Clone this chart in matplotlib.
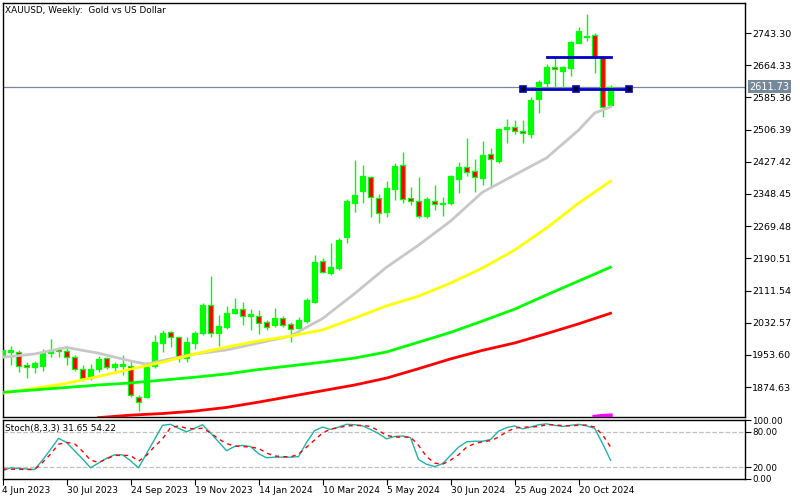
import matplotlib
matplotlib.use('Agg')
import matplotlib.pyplot as plt

# --- data (weekly XAUUSD) ---
date_labels = ['4 Jun 2023', '30 Jul 2023', '24 Sep 2023', '19 Nov 2023', '14 Jan 2024',
               '10 Mar 2024', '5 May 2024', '30 Jun 2024', '25 Aug 2024', '20 Oct 2024']
date_label_idx = [0, 8, 16, 24, 32, 40, 48, 56, 64, 72]

opens = [1951, 1962, 1962, 1929, 1923, 1927, 1959, 1968, 1963, 1949,
         1919, 1896, 1919, 1946, 1925, 1927, 1927, 1851, 1850, 1927,
         1984, 2009, 1997, 1946, 1982, 2007, 2076, 2008, 2023, 2056,
         2066, 2048, 2050, 2034, 2027, 2044, 2030, 2019, 2038, 2084,
         2184, 2155, 2166, 2244, 2326, 2357, 2391, 2338, 2305, 2360,
         2419, 2339, 2331, 2295, 2332, 2323, 2327, 2385, 2414, 2405,
         2388, 2446, 2429, 2508, 2512, 2502, 2496, 2581, 2620, 2659,
         2650, 2657, 2720, 2733, 2738, 2685, 2566]
highs = [1970, 1976, 1966, 1937, 1940, 1968, 1992, 1974, 1976, 1954,
         1929, 1931, 1951, 1949, 1937, 1954, 1941, 1855, 1937, 2003,
         2015, 2012, 1998, 1998, 2012, 2080, 2147, 2052, 2074, 2093,
         2083, 2066, 2064, 2039, 2068, 2049, 2035, 2046, 2093, 2199,
         2192, 2228, 2240, 2335, 2433, 2419, 2393, 2348, 2380, 2424,
         2452, 2365, 2389, 2342, 2370, 2340, 2395, 2428, 2486, 2434,
         2478, 2461, 2511, 2532, 2530, 2530, 2586, 2628, 2668, 2685,
         2662, 2724, 2759, 2790, 2743, 2687, 2616]
lows = [1946, 1929, 1913, 1896, 1909, 1915, 1949, 1948, 1930, 1915,
        1891, 1892, 1913, 1919, 1909, 1904, 1851, 1815, 1847, 1922,
        1962, 1974, 1936, 1937, 1968, 2003, 1998, 1976, 2017, 2054,
        2027, 2015, 2004, 2015, 2022, 2022, 1986, 2017, 2031, 2080,
        2154, 2150, 2163, 2229, 2305, 2326, 2293, 2278, 2293, 2334,
        2327, 2321, 2289, 2289, 2309, 2294, 2321, 2350, 2393, 2354,
        2370, 2364, 2425, 2473, 2495, 2473, 2487, 2546, 2610, 2610,
        2608, 2638, 2718, 2724, 2644, 2537, 2564]
closes = [1966, 1965, 1927, 1923, 1933, 1959, 1966, 1963, 1948, 1919,
          1896, 1919, 1943, 1923, 1931, 1931, 1855, 1839, 1925, 1986,
          2007, 1997, 1946, 1986, 2007, 2076, 2007, 2025, 2056, 2066,
          2049, 2053, 2033, 2023, 2044, 2027, 2017, 2039, 2088, 2182,
          2158, 2170, 2236, 2331, 2346, 2393, 2340, 2303, 2362, 2417,
          2335, 2331, 2295, 2336, 2324, 2327, 2393, 2414, 2402, 2389,
          2444, 2434, 2507, 2512, 2504, 2497, 2579, 2624, 2661, 2654,
          2661, 2722, 2748, 2736, 2685, 2561, 2611.73]

# moving averages (sampled points)
ma_grey_idx = [0, 4, 8, 12, 16, 18, 20, 24, 28, 32, 36, 40, 44, 48, 52, 56, 60, 64, 68, 72, 74, 76]
ma_grey = [1948, 1956, 1972, 1958, 1939, 1931, 1940, 1956, 1966, 1983, 2000, 2043,
           2104, 2169, 2223, 2282, 2353, 2395, 2437, 2505, 2547, 2562]
ma_idx = [0, 4, 8, 12, 16, 20, 24, 28, 32, 36, 40, 44, 48, 52, 56, 60, 64, 68, 72, 76]
ma_yellow = [1860, 1872, 1884, 1901, 1919, 1936, 1956, 1973, 1988, 2000,
             2015, 2044, 2074, 2098, 2130, 2167, 2211, 2265, 2326, 2380]
ma_green = [1862, 1868, 1874, 1880, 1885, 1892, 1899, 1907, 1918, 1927,
            1936, 1946, 1961, 1985, 2009, 2037, 2066, 2101, 2135, 2169]
ma_red_idx = [12, 16, 20, 24, 28, 32, 36, 40, 44, 48, 52, 56, 60, 64, 68, 72, 76]
ma_red = [1800, 1806, 1810, 1816, 1825, 1838, 1852, 1866, 1880, 1897,
          1920, 1944, 1965, 1983, 2006, 2030, 2056]
ma_magenta_idx = [74, 75, 76]
ma_magenta = [1802, 1804, 1805]

# stochastic (8,3,3)
stoch_k = [14, 19, 18, 17, 16, 32, 50, 69, 62, 48, 34, 19, 27, 35, 41, 41, 31, 19, 43, 67,
           91, 92.7, 86, 80, 86, 92, 78, 63, 48, 55, 57, 55, 43, 36, 37, 37, 37, 38, 62, 82,
           88, 84, 88, 92.7, 92, 90, 84, 77, 68, 72, 73, 70, 33, 25, 21, 26, 40, 54, 63, 64,
           64, 67, 81, 87, 90, 85, 88, 92, 93.5, 91, 89, 91, 92.7, 90, 86, 60, 31.65]
stoch_d = [17, 16.6, 16.5, 16, 16, 28, 42, 59, 62, 60, 47, 32, 28, 34, 40, 40, 40, 30, 40, 55,
           68, 87, 90, 86, 85, 86, 78, 68, 60, 56, 55, 54, 52, 44, 39, 38, 37.5, 42, 54, 66,
           78, 84.5, 87, 90, 90.5, 91, 89, 82, 74, 71, 71, 71, 57, 38, 27, 25, 32, 41, 54, 60,
           63, 65, 71, 80, 86, 88, 88, 89, 92, 92, 90.5, 90, 91, 91.5, 88, 75, 54.22]

price_ticks = [2743.30, 2664.33, 2585.36, 2506.39, 2427.42, 2348.45, 2269.48,
               2190.51, 2111.54, 2032.57, 1953.60, 1874.63]
current_price = 2611.73
upper_level = 2685   # blue line from 20 Oct 2024 week
lower_level = 2606   # selected blue trendline
upper_line_idx = [68, 76]
lower_line_idx = [65, 78.25]

BULL = '#00FF00'
BEAR = '#FF0000'

plt.rcParams['font.family'] = ['DejaVu Sans']

fig = plt.figure(figsize=(8, 5), dpi=100)
fig.patch.set_facecolor('white')

xmin, xmax = 0.0, 92.8
ax = fig.add_axes([2.5 / 800, 83 / 500, 742.5 / 800, 414 / 500])
ax2 = fig.add_axes([2.5 / 800, 21 / 500, 742.5 / 800, 59 / 500])

# --- candles ---
xs = list(range(len(opens)))
ax.vlines(xs, lows, highs, color=BULL, linewidth=1.0, zorder=2)
for i, (o, c) in enumerate(zip(opens, closes)):
    face = BULL if c >= o else BEAR
    bottom = min(o, c)
    h = max(abs(c - o), 1.0)
    ax.bar(i, h, bottom=bottom, width=0.66, color=face, edgecolor=BULL,
           linewidth=0.9, zorder=3)

# --- moving averages ---
ax.plot(ma_grey_idx, ma_grey, color='#C8C8C8', linewidth=2, zorder=4)
ax.plot(ma_idx, ma_yellow, color='#FFFF00', linewidth=2, zorder=4)
ax.plot(ma_idx, ma_green, color='#00FF00', linewidth=2, zorder=4)
ax.plot(ma_red_idx, ma_red, color='#FF0000', linewidth=2, zorder=4)
ax.plot(ma_magenta_idx, ma_magenta, color='#FF00FF', linewidth=3, zorder=4)

# --- current price line + label ---
ax.axhline(current_price, color='#778899', linewidth=0.9, zorder=1)
ax.annotate(f'{current_price:.2f}', xy=(1.0, current_price),
            xycoords=('axes fraction', 'data'), xytext=(3, 0), textcoords='offset points',
            ha='left', va='center', fontsize=7, color='white', annotation_clip=False,
            bbox=dict(boxstyle='square,pad=0.15', facecolor='#778899', edgecolor='none'))

# --- drawn lines ---
ax.plot(upper_line_idx, [upper_level, upper_level], color='#0000C8', linewidth=2, zorder=5)
ax.plot(lower_line_idx, [lower_level, lower_level], color='#0000C8', linewidth=2, zorder=5)
mid = (lower_line_idx[0] + lower_line_idx[1]) / 2
ax.plot([lower_line_idx[0], mid, lower_line_idx[1]], [lower_level] * 3, linestyle='none',
        marker='s', markersize=5, markerfacecolor='black', markeredgecolor='#0000C8',
        markeredgewidth=1.2, zorder=6)

ax.set_xlim(xmin, xmax)
ax.set_ylim(1801.5, 2816.9)
ax.set_xticks([])
ax.yaxis.tick_right()
ax.set_yticks(price_ticks)
ax.set_yticklabels([f'{p:.2f}' for p in price_ticks])
ax.tick_params(axis='y', direction='out', length=4, width=0.8, labelsize=6.8, pad=1, colors='black')
for s in ax.spines.values():
    s.set_linewidth(1.0)
    s.set_color('black')

ax.text(0.004, 0.992, 'XAUUSD, Weekly:  Gold vs US Dollar', transform=ax.transAxes,
        ha='left', va='top', fontsize=6.4)

# --- stochastic panel ---
ax2.axhline(80, color='#C0C0C0', linestyle='--', linewidth=0.9)
ax2.axhline(20, color='#C0C0C0', linestyle='--', linewidth=0.9)
ax2.plot(xs, stoch_k, color='#20B2AA', linewidth=1.0)
ax2.plot(xs, stoch_d, color='#FF0000', linewidth=1.0, linestyle=(0, (3, 3)))
ax2.set_xlim(xmin, xmax)
ax2.set_ylim(0, 100)
ax2.yaxis.tick_right()
ax2.set_yticks([0, 20, 80, 100])
ax2.set_yticklabels(['0.00', '20.00', '80.00', '100.00'])
ax2.tick_params(axis='y', direction='out', length=4, width=0.8, labelsize=6.3, pad=1)
ax2.set_xticks(date_label_idx)
ax2.set_xticklabels(date_labels, ha='left')
ax2.tick_params(axis='x', direction='out', length=4, width=0.8, labelsize=6.5, pad=1)
for s in ax2.spines.values():
    s.set_linewidth(1.0)
    s.set_color('black')
ax2.text(0.004, 0.93, 'Stoch(8,3,3) 31.65 54.22', transform=ax2.transAxes,
         ha='left', va='top', fontsize=6.4)

fig.savefig('out.png', dpi=100)
plt.close(fig)
